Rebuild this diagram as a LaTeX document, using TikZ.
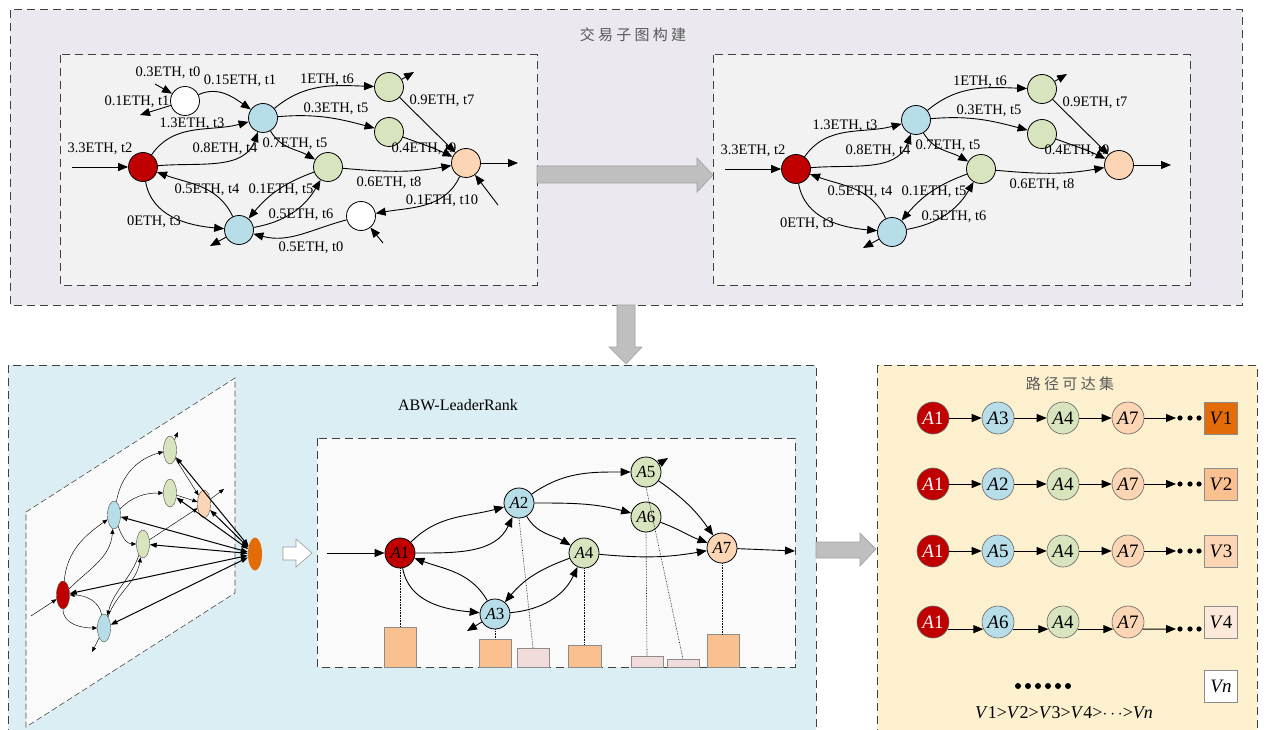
\documentclass[tikz,border=0pt]{standalone}
\usepackage{fontspec}
\setmainfont{Liberation Serif}
\newfontfamily\cjk[LetterSpace=22]{Noto Sans CJK SC}
\usetikzlibrary{arrows.meta,shapes.geometric}

\definecolor{panelA}{HTML}{EBE8EF}
\definecolor{innerA}{HTML}{F2F2F2}
\definecolor{panelB}{HTML}{DAEEF3}
\definecolor{innerB}{HTML}{FAFAFA}
\definecolor{panelC}{HTML}{FDF0CE}
\definecolor{nred}{HTML}{C00000}
\definecolor{nblue}{HTML}{B7DEE8}
\definecolor{ngreen}{HTML}{D7E4BD}
\definecolor{npeach}{HTML}{FCD5B5}
\definecolor{norange}{HTML}{E36C09}
\definecolor{barA}{HTML}{FAC090}
\definecolor{barB}{HTML}{F2DCDB}
\definecolor{vtwo}{HTML}{FAC090}
\definecolor{vthree}{HTML}{FCD5B5}
\definecolor{vfour}{HTML}{FDE9D9}
\definecolor{garrow}{HTML}{BFBFBF}
\definecolor{garrowline}{HTML}{A0A0A0}

\tikzset{
  dashbox/.style={draw=black!75, line width=1pt, dash pattern=on 8pt off 5pt},
  gnode/.style={circle, draw=black, line width=0.8pt, minimum size=29pt, inner sep=0pt},
  mnode/.style={circle, draw=black, line width=0.8pt, minimum size=30pt, inner sep=0pt,
    font=\fontsize{17}{17}\selectfont},
  rnode/.style={circle, draw=black!60, line width=0.6pt, minimum size=32pt, inner sep=0pt,
    font=\fontsize{19}{19}\selectfont},
  vbox/.style={rectangle, draw=black!45, line width=0.8pt, minimum width=33pt, minimum height=32pt,
    inner sep=0pt, font=\fontsize{19}{19}\selectfont},
  pnode/.style={ellipse, draw=black!70, line width=0.4pt, minimum width=13pt, minimum height=28pt, inner sep=0pt},
  edge/.style={line width=0.9pt, -{Triangle[length=10pt,width=8pt]}},
  redge/.style={line width=1pt, -{Triangle[length=10pt,width=8pt]}},
  pedge/.style={line width=0.45pt, -{Triangle[length=5pt,width=4pt]}},
  oedge/.style={line width=1pt, {Triangle[length=7pt,width=5pt]}-{Triangle[length=7pt,width=5pt]}},
  elabel/.style={font=\fontsize{14.5}{15}\selectfont, inner sep=0pt},
  bar/.style={draw=black!45, line width=0.6pt},
  dropline/.style={line width=0.6pt, densely dotted},
  blockarrow/.style={fill=garrow, draw=garrowline, line width=0.6pt},
}

% transaction graph shared by both subgraph boxes; #1 = name prefix, #2/#3 = offset
\newcommand\txgraph[3]{%
\begin{scope}[shift={(#2,#3)}]
  \node[gnode, fill=nred]   (#1R)  at (143,167) {};
  \node[gnode, fill=nblue]  (#1B1) at (263,118) {};
  \node[gnode, fill=nblue]  (#1B2) at (239,230) {};
  \node[gnode, fill=ngreen] (#1G1) at (389,87) {};
  \node[gnode, fill=ngreen] (#1G2) at (389,132) {};
  \node[gnode, fill=ngreen] (#1G3) at (328,167) {};
  \node[gnode, fill=npeach] (#1P)  at (466,163) {};
  \coordinate (#1in)   at (72,167);
  \coordinate (#1bout) at (210,246);
  \coordinate (#1gout) at (414,72);
  \coordinate (#1pout) at (518,163);
  \draw[edge] (#1in) -- (#1R);
  \draw[edge] (#1R) to[out=55,in=195] (#1B1);
  \draw[edge] (#1R) to[out=5,in=-110] (#1B1);
  \draw[edge] (#1B2) to[out=115,in=-20] (#1R);
  \draw[edge] (#1R) to[out=-80,in=175] (#1B2);
  \draw[edge] (#1B2) -- (#1bout);
  \draw[edge] (#1G3) to[out=200,in=50] (#1B2);
  \draw[edge] (#1B2) to[out=10,in=-120] (#1G3);
  \draw[edge] (#1B1) to[out=40,in=178] (#1G1);
  \draw[edge] (#1B1) to[out=5,in=165] (#1G2);
  \draw[edge] (#1B1) to[out=-60,in=150] (#1G3);
  \draw[edge] (#1G1) -- (#1gout);
  \draw[edge] (#1G1) -- (#1P);
  \draw[edge] (#1G2) to[out=-20,in=155] (#1P);
  \draw[edge] (#1G3) to[out=-5,in=190] (#1P);
  \draw[edge] (#1P) -- (#1pout);
  \node[elabel] (#1l1)  at (100,149) {3.3ETH, t2};
  \node[elabel] (#1l2)  at (192,124) {1.3ETH, t3};
  \node[elabel] (#1l3)  at (225,149) {0.8ETH, t4};
  \node[elabel] (#1l4)  at (207,190) {0.5ETH, t4};
  \node[elabel] (#1l5)  at (154,222) {0ETH, t3};
  \node[elabel] (#1l6)  at (281,190) {0.1ETH, t5};
  \node[elabel] (#1l7)  at (301,215) {0.5ETH, t6};
  \node[elabel] (#1l8)  at (327,80)  {1ETH, t6};
  \node[elabel] (#1l9)  at (336,109) {0.3ETH, t5};
  \node[elabel] (#1l10) at (295,144) {0.7ETH, t5};
  \node[elabel] (#1l11) at (442,101) {0.9ETH, t7};
  \node[elabel] (#1l12) at (424,149) {0.4ETH, t9};
  \node[elabel] (#1l13) at (389,183) {0.6ETH, t8};
\end{scope}}

% one row of the reachable-path list
% #1 prefix, #2 y, #3 second node, #4 box fill, #5 box text, #6 out anchor, #7 in anchor, #8 arrow y
\newcommand\reachrow[8]{%
  \node[rnode, fill=nred, text=white] (#1a) at (933,#2) {\textit{A}1};
  \node[rnode, fill=nblue]  (#1b) at (998,#2) {#3};
  \node[rnode, fill=ngreen] (#1c) at (1063,#2) {\textit{A}4};
  \node[rnode, fill=npeach] (#1d) at (1128,#2) {\textit{A}7};
  \node[vbox, fill=#4] (#1v) at (1221,#2) {#5};
  \coordinate (#1e) at (1176,#8);
  \draw[redge] (#1a.#6) -- (#1b.#7);
  \draw[redge] (#1b.#6) -- (#1c.#7);
  \draw[redge] (#1c.#6) -- (#1d.#7);
  \draw[redge] (#1d.#6) -- (#1e);
  \fill (1180,#8) circle (2.6) (1190,#8) circle (2.6) (1199,#8) circle (2.6);
}

\begin{document}
\begin{tikzpicture}[x=1pt, y=-1pt]
\useasboundingbox (0,0) rectangle (1266,730);
\fill[white] (0,0) rectangle (1266,730);

% ---------- panel: transaction subgraph construction ----------
\draw[dashbox, fill=panelA] (10,10) rectangle (1242,305);
\node[font=\cjk\fontsize{15}{15}\selectfont, text=black!65] (titleA) at (633,35) {交易子图构建};
\draw[dashbox, fill=innerA] (60,55) rectangle (537,285);
\draw[dashbox, fill=innerA] (713,55) rectangle (1190,285);

\txgraph{l}{0}{0}
\txgraph{r}{653}{2}

% nodes that are removed in the pruned subgraph
\node[gnode, fill=white] (lW1) at (185,101) {};
\node[gnode, fill=white] (lW2) at (361,216) {};
\coordinate (lw1in)  at (155,84);
\coordinate (lw1out) at (140,115);
\coordinate (lpin)   at (498,205);
\coordinate (lw2in)  at (383,243);
\draw[edge] (lw1in) -- (lW1);
\draw[edge] (lW1) -- (lw1out);
\draw[edge] (lW1) to[out=25,in=145] (lB1);
\draw[edge] (lpin) -- (lP);
\draw[edge] (lP) to[out=-115,in=10] (lW2);
\draw[edge] (lw2in) -- (lW2);
\draw[edge] (lW2) to[out=195,in=-15] (lB2);
\node[elabel] (lm1) at (168,73)  {0.3ETH, t0};
\node[elabel] (lm2) at (137,102) {0.1ETH, t1};
\node[elabel] (lm3) at (240,81)  {0.15ETH, t1};
\node[elabel] (lm4) at (442,201) {0.1ETH, t10};
\node[elabel] (lm5) at (311,248) {0.5ETH, t0};

% block arrows between panels
\filldraw[blockarrow] (537,166) -- (697,166) -- (697,158) -- (713,175) -- (697,192) -- (697,183) -- (537,183) -- cycle;
\filldraw[blockarrow] (617,305) -- (635,305) -- (635,347) -- (642,347) -- (626,364) -- (609,347) -- (617,347) -- cycle;

% ---------- panel: ABW-LeaderRank ----------
\draw[dashbox, fill=panelB] (8,365) rectangle (816,740);
\node[font=\fontsize{16}{16}\selectfont] (titleB) at (458,405) {ABW-LeaderRank};

% network plane with the added ground node
\draw[draw=black!70, line width=0.6pt, dash pattern=on 6pt off 3pt, fill=innerB]
  (26,512) -- (235,378) -- (235,593) -- (26,727) -- cycle;
\node[pnode, fill=nred]   (pR)  at (63,595) {};
\node[pnode, fill=nblue]  (pB2) at (104,628) {};
\node[pnode, fill=nblue]  (pB1) at (114,515) {};
\node[pnode, fill=ngreen] (pG3) at (143,544) {};
\node[pnode, fill=ngreen] (pG1) at (170,450) {};
\node[pnode, fill=ngreen] (pG2) at (170,493) {};
\node[pnode, fill=npeach] (pP)  at (204,504) {};
\node[ellipse, draw=none, fill=norange, minimum width=14pt, minimum height=33pt, inner sep=0pt] (pO) at (255,554) {};
\coordinate (pin)   at (31,616);
\coordinate (pbout) at (92,652);
\coordinate (pgout) at (178,432);
\coordinate (ppout) at (224,489);
\draw[pedge] (pin) -- (pR);
\draw[pedge] (pR) to[out=85,in=215] (pB1);
\draw[pedge] (pR) to[out=45,in=-95] (pB1);
\draw[pedge] (pB2) to[out=100,in=0] (pR);
\draw[pedge] (pR) to[out=-90,in=180] (pB2);
\draw[pedge] (pB2) -- (pbout);
\draw[pedge] (pG3) to[out=-110,in=75] (pB2);
\draw[pedge] (pB2) to[out=70,in=-100] (pG3);
\draw[pedge] (pB1) to[out=80,in=195] (pG1);
\draw[pedge] (pB1) to[out=45,in=180] (pG2);
\draw[pedge] (pB1) to[out=-70,in=180] (pG3);
\draw[pedge] (pG3) -- (pP);
\draw[pedge] (pG1) -- (pP);
\draw[pedge] (pG2) -- (pP);
\draw[pedge] (pG1) -- (pgout);
\draw[pedge] (pP) -- (ppout);
\foreach \t in {pR,pB2,pB1,pG3,pG1,pG2,pP} \draw[oedge] (pO) -- (\t);

\filldraw[fill=white, draw=black!40, line width=0.6pt]
  (283,547) -- (296,547) -- (296,539) -- (312,553) -- (296,567) -- (296,560) -- (283,560) -- cycle;

% LeaderRank graph with score bars
\draw[dashbox, fill=innerB] (317,438) rectangle (795,667);
\node[mnode, fill=nred]   (A1) at (400,553) {\textit{A}1};
\node[mnode, fill=nblue]  (A2) at (519,503) {\textit{A}2};
\node[mnode, fill=nblue]  (A3) at (495,614) {\textit{A}3};
\node[mnode, fill=ngreen] (A4) at (584,553) {\textit{A}4};
\node[mnode, fill=ngreen] (A5) at (646,472) {\textit{A}5};
\node[mnode, fill=ngreen] (A6) at (646,517) {\textit{A}6};
\node[mnode, fill=npeach] (A7) at (722,548) {\textit{A}7};

\draw[bar, fill=barA] (384,627) rectangle (416,667);
\draw[bar, fill=barA] (479,639) rectangle (511,667);
\draw[bar, fill=barB] (517,648) rectangle (549,667);
\draw[bar, fill=barA] (568,645) rectangle (601,667);
\draw[bar, fill=barB] (631,656) rectangle (663,667);
\draw[bar, fill=barB] (667,659) rectangle (699,667);
\draw[bar, fill=barA] (707,634) rectangle (739,667);
\draw[dropline] (A1.south) -- (400,627);
\draw[dropline] (A3.south) -- (495,639);
\draw[dropline] (A2.south) -- (533,648);
\draw[dropline] (A4.south) -- (584,645);
\draw[dropline] (A6.south) -- (647,656);
\draw[dropline] (A5.south) -- (683,659);
\draw[dropline] (A7.south) -- (722,634);

\coordinate (ain)  at (327,553);
\coordinate (a3o)  at (467,631);
\coordinate (a5o)  at (668,458);
\coordinate (a7o)  at (795,551);
\draw[edge] (ain) -- (A1);
\draw[edge] (A1) to[out=45,in=195] (A2);
\draw[edge] (A1) to[out=0,in=-115] (A2);
\draw[edge] (A3) to[out=120,in=-20] (A1);
\draw[edge] (A1) to[out=-80,in=175] (A3);
\draw[edge] (A3) -- (a3o);
\draw[edge] (A2) to[out=35,in=180] (A5);
\draw[edge] (A2) to[out=0,in=165] (A6);
\draw[edge] (A2) to[out=-60,in=150] (A4);
\draw[edge] (A4) to[out=200,in=50] (A3);
\draw[edge] (A3) to[out=5,in=-115] (A4);
\draw[edge] (A5) -- (a5o);
\draw[edge] (A5) to[out=-35,in=125] (A7);
\draw[edge] (A6) to[out=-20,in=160] (A7);
\draw[edge] (A4) to[out=-5,in=190] (A7);
\draw[edge] (A7) -- (a7o);

\filldraw[blockarrow] (816,542) -- (860,542) -- (860,533) -- (876,549) -- (860,566) -- (860,558) -- (816,558) -- cycle;

% ---------- panel: reachable path set ----------
\draw[dashbox, fill=panelC] (877,365) rectangle (1257,740);
\node[font=\cjk\fontsize{15}{15}\selectfont, text=black!65] (titleC) at (1070,384) {路径可达集};

\reachrow{q1}{418}{\textit{A}3}{norange}{\textit{V}1}{0}{180}{418}
\reachrow{q2}{484}{\textit{A}2}{vtwo}{\textit{V}2}{0}{180}{484}
\reachrow{q3}{551}{\textit{A}5}{vthree}{\textit{V}3}{0}{180}{551}
\reachrow{q4}{622}{\textit{A}6}{vfour}{\textit{V}4}{-26}{206}{629}

\node[vbox, fill=white] (qn) at (1221,686) {\textit{Vn}};
\foreach \k in {0,...,5} \fill (1018+10*\k,686) circle (3);
\node[font=\fontsize{18}{18}\selectfont] (rank) at (1064,713) {\textit{V}1>\textit{V}2>\textit{V}3>\textit{V}4>$\cdots$>\textit{Vn}};
\end{tikzpicture}
\end{document}
